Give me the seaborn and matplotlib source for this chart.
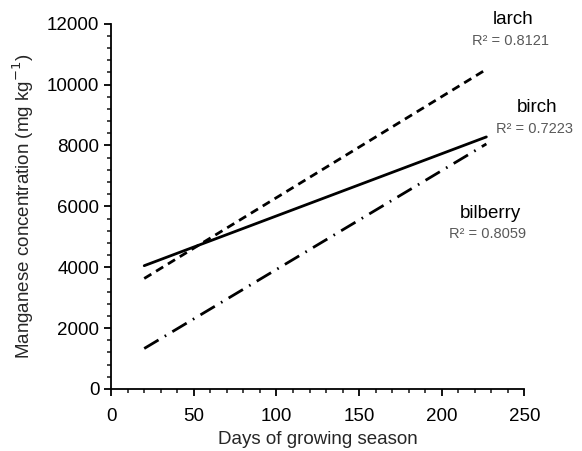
import pandas as pd
import numpy as np
import matplotlib
matplotlib.use('Agg')
import matplotlib.pyplot as plt
from matplotlib.ticker import MultipleLocator
import seaborn as sns

# trend lines (start / end of growing season)
days = [20, 227]
larch = [3630, 10500]
birch = [4050, 8280]
bilberry = [1330, 8050]
species = ['larch', 'birch', 'bilberry']
r2 = {'larch': '0.8121', 'birch': '0.7223', 'bilberry': '0.8059'}

df = pd.DataFrame({
    'day': days * 3,
    'mn': larch + birch + bilberry,
    'species': [s for s in species for _ in days],
})

sns.set_style('ticks')
plt.rcParams['font.family'] = ['Liberation Sans', 'DejaVu Sans']

fig = plt.figure(figsize=(5.82, 4.51), dpi=100)
ax = fig.add_axes([0.191, 0.1375, 0.71, 0.81])

dashes = {'larch': (3, 2), 'birch': '', 'bilberry': (6, 2.6, 0.6, 2.6)}
sns.lineplot(data=df, x='day', y='mn', style='species', dashes=dashes,
             color='black', linewidth=2.0, legend=False, ax=ax)

ax.set_xlim(0, 250)
ax.set_ylim(0, 12000)
ax.xaxis.set_major_locator(MultipleLocator(50))
ax.xaxis.set_minor_locator(MultipleLocator(10))
ax.yaxis.set_major_locator(MultipleLocator(2000))
ax.yaxis.set_minor_locator(MultipleLocator(400))
ax.tick_params(which='major', length=5, width=1.3, labelsize=13.5, colors='black')
ax.tick_params(which='minor', length=3, width=1.2)
ax.tick_params(axis='x', pad=9)
for sp in ['left', 'bottom']:
    ax.spines[sp].set_linewidth(1.3)
    ax.spines[sp].set_color('black')
sns.despine(ax=ax)

ax.set_xlabel('Days of growing season', fontsize=13.5, labelpad=4)
ax.set_ylabel('Manganese concentration (mg kg$^{\\mathrm{-}1}$)', fontsize=13.5, labelpad=8)

# species labels with R² values (figure-pixel placement)
labels = {'larch': (513, 20), 'birch': (537, 108), 'bilberry': (490, 213)}
for s, (px, py) in labels.items():
    fig.text(px / 582, 1 - py / 451, s, ha='center', va='center', fontsize=13.5, color='black')
    fig.text((px - 2) / 582, 1 - (py + 21) / 451, 'R² = ' + r2[s], ha='center', va='center',
             fontsize=10.5, color='#595959')

fig.savefig('out.png', dpi=100)
